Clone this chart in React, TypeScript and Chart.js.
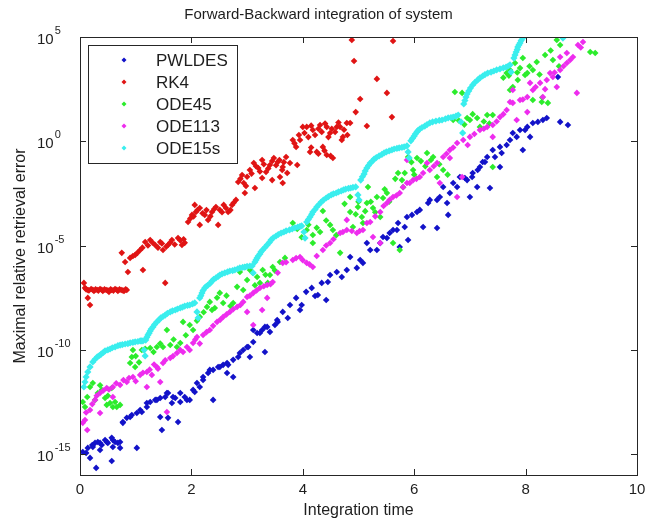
import React, { useEffect, useRef } from 'react';
import { Chart, registerables } from 'chart.js';

Chart.register(...registerables);

const FONT = "'Liberation Sans', Arial, sans-serif";
const TEXT = '#1e1e1e';

const titleText = 'Forward-Backward integration of system';
const xTitle = 'Integration time';
const yTitle = 'Maximal relative retrieval error';

const seriesNames = ['PWLDES', 'RK4', 'ODE45', 'ODE113', 'ODE15s'];
const seriesColors = ['#1212c8', '#e01414', '#2cec2c', '#ee2cee', '#3aeeee'];
const seriesRadius = [3.3, 3.3, 3.3, 3.3, 3.6];

const xTicks = [0, 2, 4, 6, 8, 10];
const yTickExps = [5, 0, -5, -10, -15];

// [integration time, log10(error)]
const pwldes = [
  [0.05, -14.9], [0.11, -14.94], [0.14, -14.7], [0.18, -15.18], [0.22, -14.56], [0.23, -14.66], [0.27, -14.46],
  [0.29, -15.66], [0.32, -14.42], [0.36, -14.46], [0.36, -14.8], [0.39, -14.56], [0.45, -14.32], [0.48, -14.42],
  [0.5, -14.46], [0.57, -15.33], [0.57, -14.22], [0.59, -14.32], [0.59, -14.66], [0.63, -14.42], [0.68, -14.46],
  [0.72, -14.42], [0.72, -14.7], [0.77, -13.46], [0.77, -13.5], [0.84, -13.26], [0.9, -13.22], [0.93, -13.12],
  [1.02, -14.7], [1.02, -13.03], [1.08, -12.88], [1.11, -12.98], [1.2, -12.55], [1.2, -12.74], [1.26, -12.5],
  [1.35, -12.4], [1.38, -12.4], [1.44, -13.22], [1.44, -12.31], [1.47, -13.84], [1.53, -12.26], [1.56, -12.07],
  [1.58, -13.26], [1.58, -12.07], [1.65, -12.55], [1.67, -12.26], [1.71, -12.31], [1.76, -13.46], [1.8, -12.07],
  [1.8, -12.5], [1.88, -12.26], [1.92, -12.4], [1.97, -12.4], [2.03, -11.92], [2.06, -12.02], [2.1, -11.59],
  [2.15, -11.78], [2.21, -11.3], [2.21, -11.44], [2.3, -11.11], [2.33, -10.96], [2.39, -12.4], [2.39, -10.96],
  [2.48, -10.82], [2.51, -10.82], [2.57, -10.72], [2.64, -10.63], [2.64, -11.11], [2.66, -10.72], [2.75, -10.48],
  [2.75, -11.3], [2.84, -10.34], [2.87, -10.15], [2.93, -10.01], [3.0, -9.86], [3.02, -9.86], [3.05, -10.34],
  [3.11, -9.05], [3.11, -9.62], [3.18, -9.19], [3.23, -9.19], [3.27, -9.05], [3.32, -10.1], [3.32, -8.9],
  [3.36, -8.9], [3.41, -9.14], [3.5, -8.81], [3.54, -8.57], [3.55, -8.66], [3.64, -8.18], [3.73, -8.47],
  [3.77, -7.85], [3.88, -7.51], [3.95, -8.09], [3.98, -7.85], [4.06, -7.22], [4.16, -7.03], [4.22, -7.42],
  [4.27, -7.37], [4.34, -6.79], [4.42, -7.61], [4.45, -6.75], [4.49, -6.41], [4.61, -6.27], [4.7, -6.51],
  [4.79, -6.17], [4.85, -5.55], [4.97, -6.07], [5.03, -5.69], [5.08, -5.83], [5.15, -4.88], [5.21, -5.21],
  [5.33, -5.21], [5.39, -4.88], [5.44, -4.59], [5.51, -4.64], [5.56, -4.4], [5.62, -4.25], [5.69, -4.25],
  [5.71, -3.92], [5.74, -5.07], [5.83, -4.11], [5.87, -3.63], [5.89, -4.73], [5.96, -3.53], [6.05, -3.39],
  [6.1, -3.29], [6.16, -4.11], [6.25, -2.96], [6.28, -2.81], [6.41, -2.81], [6.41, -4.16], [6.46, -2.67],
  [6.52, -2.19], [6.59, -2.96], [6.61, -3.53], [6.64, -2.48], [6.7, -2.0], [6.77, -2.19], [6.82, -1.71],
  [6.91, -1.76], [6.95, -1.86], [7.0, -2.67], [7.04, -1.71], [7.05, -1.52], [7.13, -2.19], [7.14, -1.38],
  [7.18, -1.23], [7.23, -0.99], [7.27, -0.99], [7.31, -0.75], [7.36, -2.24], [7.41, -0.42], [7.45, -0.75],
  [7.54, -0.27], [7.54, -1.23], [7.57, -0.56], [7.66, -0.18], [7.72, 0.06], [7.77, 0.4], [7.84, 0.21],
  [7.9, 0.54], [7.95, -0.42], [7.99, 0.54], [8.03, 0.69], [8.08, 0.21], [8.13, 0.88], [8.22, 0.93],
  [8.31, 1.02], [8.38, 1.12], [8.58, 3.08], [8.62, 0.93], [8.76, 0.78],
];

const rk4 = [
  [0.07, -6.79], [0.09, -7.03], [0.11, -7.1], [0.14, -7.13], [0.14, -7.51], [0.16, -7.15], [0.18, -7.85],
  [0.2, -7.08], [0.23, -7.12], [0.25, -7.18], [0.28, -7.1], [0.31, -7.13], [0.33, -7.16], [0.36, -7.08],
  [0.39, -7.12], [0.41, -7.18], [0.44, -7.1], [0.47, -7.13], [0.5, -7.15], [0.52, -7.22], [0.55, -7.1],
  [0.57, -7.13], [0.6, -7.16], [0.63, -7.08], [0.66, -7.12], [0.68, -7.18], [0.71, -7.1], [0.74, -7.13],
  [0.77, -7.15], [0.79, -7.18], [0.82, -7.1], [0.84, -7.13],
  [0.75, -5.35], [0.81, -5.79], [0.86, -6.27], [0.9, -5.59], [0.95, -5.5], [0.99, -5.45], [1.03, -5.35],
  [1.08, -5.21], [1.12, -5.1], [1.13, -6.17], [1.17, -4.83], [1.22, -5.0], [1.26, -4.73], [1.3, -4.85],
  [1.35, -4.97], [1.4, -5.1], [1.44, -4.83], [1.47, -4.9], [1.49, -5.21], [1.53, -6.79], [1.55, -5.05],
  [1.58, -4.97], [1.62, -4.85], [1.65, -4.73], [1.7, -4.95], [1.76, -4.64], [1.8, -4.75], [1.83, -4.97],
  [1.86, -4.7], [1.88, -4.87],
  [1.94, -3.87], [1.98, -3.7], [2.01, -3.53], [2.04, -3.6], [2.06, -3.05], [2.08, -3.39], [2.11, -3.3],
  [2.15, -3.2], [2.15, -4.01], [2.2, -3.45], [2.24, -3.53], [2.27, -3.3], [2.3, -3.77], [2.34, -3.6],
  [2.37, -3.39], [2.41, -3.25], [2.44, -3.15], [2.48, -4.01], [2.51, -3.29], [2.55, -3.4], [2.58, -3.05],
  [2.62, -3.2], [2.66, -3.39], [2.7, -3.3], [2.73, -3.05], [2.76, -2.95], [2.8, -2.81],
  [2.84, -1.95], [2.88, -1.8], [2.91, -1.62], [2.94, -2.0], [2.96, -2.48], [2.98, -2.14], [3.0, -1.7],
  [3.05, -1.38], [3.08, -1.55], [3.12, -1.04], [3.14, -2.24], [3.16, -1.2], [3.2, -1.28], [3.23, -1.45],
  [3.27, -0.9], [3.27, -1.76], [3.3, -1.1], [3.34, -1.47], [3.38, -1.3], [3.41, -1.14], [3.45, -1.86],
  [3.45, -0.95], [3.48, -0.8], [3.52, -1.15], [3.55, -0.99], [3.58, -0.9], [3.63, -1.38], [3.66, -1.0],
  [3.7, -0.75],
  [3.59, -1.71], [3.64, -1.23], [3.64, -2.0], [3.72, -1.52], [3.77, -1.04], [3.82, 0.06], [3.85, -0.1],
  [3.88, -0.27], [3.9, -1.14], [3.93, 0.3], [3.95, 0.06], [4.0, 0.69], [4.03, 0.4], [4.07, 0.69],
  [4.1, 0.2], [4.13, -0.51], [4.15, 0.75], [4.15, -0.3], [4.18, 0.54], [4.22, 0.3], [4.25, -0.51],
  [4.28, 0.6], [4.28, -0.6], [4.31, 0.78], [4.34, 0.45], [4.36, -0.27], [4.39, -0.45], [4.4, 0.85],
  [4.43, 0.69], [4.43, -0.66], [4.46, 0.2], [4.49, 0.4], [4.5, -0.7], [4.52, 0.6], [4.54, -0.8],
  [4.58, 0.45], [4.61, 0.69], [4.64, 0.9], [4.67, 0.69], [4.7, 0.06], [4.72, 0.21], [4.74, 0.55],
  [4.79, 0.88], [4.8, 0.3], [4.85, 0.88],
  [4.88, 4.86], [5.62, 4.81], [4.92, 3.85], [5.33, 2.99], [5.51, 2.32], [5.03, 2.03], [4.95, 1.4],
  [5.6, 1.16], [5.15, 0.73],
];

const ode45 = [
  [0.05, -12.5], [0.09, -12.74], [0.13, -12.26], [0.18, -11.78], [0.23, -11.59], [0.27, -12.4], [0.32, -12.07],
  [0.36, -11.7], [0.39, -11.92], [0.45, -12.31], [0.48, -12.64], [0.5, -12.2], [0.54, -12.55], [0.57, -11.83],
  [0.59, -12.74], [0.63, -12.5], [0.66, -12.74], [0.72, -12.64], [0.9, -10.63], [0.93, -10.34], [0.95, -10.01],
  [0.99, -10.82], [1.0, -10.3], [1.06, -10.6], [1.11, -10.01], [1.17, -9.95], [1.26, -9.91], [1.32, -10.1],
  [1.38, -9.86], [1.44, -9.7], [1.49, -9.86], [1.56, -9.05], [1.62, -9.77], [1.68, -9.5], [1.74, -9.86],
  [1.8, -9.67], [1.85, -8.66], [1.9, -9.3], [1.97, -8.81], [2.03, -9.05], [2.1, -8.6], [2.15, -8.42],
  [2.22, -8.2], [2.28, -7.94], [2.33, -7.7], [2.37, -8.09], [2.42, -7.99], [2.46, -7.5], [2.51, -7.27],
  [2.57, -7.75], [2.63, -7.4], [2.7, -7.9], [2.75, -7.75], [2.82, -6.98], [2.87, -6.27], [2.93, -7.13],
  [2.96, -6.03], [3.0, -6.65], [3.05, -6.17], [3.1, -6.3], [3.14, -6.9], [3.18, -6.51], [3.23, -6.79],
  [3.28, -6.17], [3.33, -6.4], [3.37, -6.79], [3.41, -6.41], [3.46, -6.03], [3.5, -6.2], [3.59, -5.79],
  [3.68, -5.59], [3.82, -3.92], [3.9, -4.2], [3.98, -4.6], [4.07, -4.25], [4.1, -4.0], [4.18, -4.49],
  [4.18, -4.88], [4.25, -4.15], [4.31, -4.35], [4.36, -3.34], [4.42, -3.8], [4.49, -4.01], [4.54, -4.25],
  [4.6, -4.5], [4.67, -5.35], [4.75, -3.0], [4.85, -2.67], [4.85, -3.39], [4.9, -4.11], [4.95, -3.5],
  [4.99, -3.15], [5.0, -2.9], [5.06, -3.63], [5.08, -3.92], [5.12, -3.35], [5.15, -2.96], [5.17, -2.19],
  [5.22, -2.9], [5.26, -3.2], [5.3, -3.4], [5.33, -2.67], [5.39, -3.63], [5.44, -2.72], [5.47, -2.3],
  [5.51, -2.48], [5.55, -2.9], [5.62, -4.88], [5.66, -1.8], [5.71, -1.52], [5.74, -5.21], [5.78, -1.86],
  [5.8, -2.2], [5.83, -1.52], [5.89, -0.75], [5.95, -1.0], [5.98, -1.38], [6.0, -1.6], [6.05, -0.8],
  [6.12, -0.95], [6.2, -1.2], [6.23, -0.56], [6.3, -0.9], [6.34, -0.75], [6.41, -1.71], [6.45, -1.1],
  [6.52, -1.38], [6.6, -1.6], [6.7, 1.02], [6.73, 2.36], [6.8, 1.0], [6.86, 2.32], [6.9, 0.8],
  [6.95, 1.12], [7.0, 1.02], [7.05, 1.3], [7.13, 1.12], [7.18, 0.69], [7.25, 0.95], [7.31, 1.26],
  [7.35, 0.85], [7.41, 1.26], [7.41, -1.23], [7.6, 3.05], [7.66, 3.27], [7.7, 3.15], [7.72, 3.42],
  [7.72, 2.46], [7.77, 2.6], [7.81, 3.75], [7.85, 3.3], [7.86, 2.94], [7.9, 3.51], [7.95, 3.99],
  [7.99, 3.18], [8.03, 3.27], [8.07, 3.6], [8.13, 3.42], [8.13, 1.98], [8.2, 3.8], [8.25, 3.2],
  [8.29, 1.88], [8.3, 2.1], [8.35, 4.14], [8.4, 1.84], [8.45, 4.35], [8.49, 3.9], [8.56, 4.86],
  [8.6, 3.6], [8.62, 4.62], [9.16, 4.28], [9.25, 4.23],
];

const ode113 = [
  [0.05, -13.5], [0.09, -13.36], [0.11, -13.0], [0.13, -13.84], [0.18, -12.88], [0.22, -12.6], [0.27, -12.4],
  [0.3, -12.2], [0.36, -12.07], [0.36, -13.03], [0.42, -11.95], [0.48, -11.83], [0.52, -11.9], [0.59, -11.78],
  [0.59, -12.26], [0.65, -11.6], [0.72, -11.68], [0.78, -11.45], [0.84, -11.54], [0.88, -11.35], [0.95, -11.3],
  [1.0, -11.5], [1.08, -11.2], [1.13, -11.1], [1.2, -11.06], [1.2, -11.78], [1.25, -10.95], [1.29, -11.2],
  [1.33, -10.7], [1.38, -10.82], [1.4, -10.9], [1.44, -11.54], [1.49, -10.63], [1.53, -10.5], [1.56, -12.98],
  [1.62, -10.39], [1.67, -10.3], [1.74, -10.15], [1.8, -10.01], [1.85, -10.1], [1.92, -9.86], [1.97, -10.01],
  [2.03, -9.67], [2.07, -9.5], [2.1, -9.38], [2.15, -9.7], [2.21, -9.29], [2.27, -9.15], [2.33, -9.05],
  [2.39, -8.85], [2.46, -8.66], [2.52, -8.55], [2.57, -8.42], [2.63, -8.3], [2.69, -8.18], [2.75, -8.05],
  [2.82, -7.94], [2.88, -7.85], [2.93, -7.7], [3.0, -7.46], [3.0, -8.18], [3.05, -7.4], [3.11, -7.27],
  [3.11, -8.81], [3.17, -7.15], [3.23, -7.03], [3.27, -8.09], [3.3, -6.95], [3.36, -6.89], [3.36, -7.51],
  [3.42, -6.85], [3.46, -6.75], [3.55, -6.3], [3.64, -5.83], [3.7, -5.8], [3.82, -5.69], [3.88, -5.6],
  [3.95, -5.55], [4.0, -5.7], [4.07, -5.83], [4.12, -5.9], [4.18, -6.03], [4.25, -5.5], [4.36, -5.21],
  [4.42, -5.0], [4.49, -4.88], [4.55, -4.7], [4.67, -4.4], [4.72, -4.35], [4.79, -4.25], [4.79, -3.77],
  [4.88, -4.3], [4.97, -4.4], [5.02, -4.3], [5.08, -4.25], [5.15, -3.92], [5.21, -3.87], [5.26, -4.59],
  [5.3, -3.6], [5.39, -3.39], [5.39, -4.88], [5.45, -3.1], [5.51, -2.96], [5.56, -2.8], [5.62, -2.67],
  [5.68, -2.6], [5.74, -2.48], [5.8, -2.2], [5.87, -2.0], [5.87, -0.9], [5.92, -2.0], [5.98, -1.86],
  [6.04, -1.8], [6.1, -1.71], [6.16, -1.52], [6.23, -1.04], [6.28, -1.38], [6.35, -1.2], [6.41, -1.04],
  [6.46, -2.0], [6.52, -0.75], [6.58, -0.6], [6.64, -0.42], [6.64, -0.8], [6.7, -0.3], [6.77, -0.08],
  [6.77, -2.67], [6.86, -1.71], [6.88, 0.06], [6.96, -0.18], [7.0, 0.21], [7.08, 0.35], [7.18, 0.54],
  [7.25, 0.6], [7.31, 0.69], [7.41, 0.78], [7.41, 0.21], [7.48, 0.95], [7.54, 1.16], [7.6, 1.3],
  [7.66, 1.5], [7.72, 1.88], [7.77, 1.84], [7.77, 2.46], [7.84, 1.02], [7.9, 1.98], [7.95, 2.0],
  [8.03, 2.12], [8.03, 1.4], [8.08, 2.8], [8.13, 2.46], [8.18, 2.6], [8.26, 2.8], [8.31, 2.12],
  [8.35, 2.5], [8.38, 2.94], [8.44, 3.27], [8.49, 3.08], [8.52, 3.3], [8.56, 2.6], [8.62, 3.42],
  [8.62, 4.04], [8.68, 3.6], [8.74, 3.75], [8.74, 4.23], [8.8, 3.9], [8.85, 4.04], [8.92, 2.32],
  [8.94, 4.62], [8.99, 4.5], [9.03, 4.76],
];

const ode15s = [
  [0.07, -11.78], [0.09, -11.54], [0.11, -11.3], [0.14, -11.06], [0.18, -10.82], [0.23, -10.58], [0.27, -10.45],
  [0.31, -10.34], [0.35, -10.27], [0.38, -10.2], [0.42, -10.12], [0.45, -10.05], [0.5, -10.0], [0.54, -9.96],
  [0.58, -9.9], [0.63, -9.86], [0.68, -9.8], [0.72, -9.77], [0.76, -9.75], [0.81, -9.72], [0.86, -9.7],
  [0.9, -9.67], [0.95, -9.64], [0.99, -9.62], [1.04, -9.6], [1.08, -9.57], [1.1, -9.57], [1.13, -9.57],
  [1.15, -10.01], [1.17, -10.29],
  [1.18, -9.53], [1.2, -9.4], [1.22, -9.29], [1.24, -9.2], [1.26, -9.09], [1.28, -9.0], [1.31, -8.9],
  [1.34, -8.78], [1.38, -8.66], [1.42, -8.56], [1.45, -8.47], [1.49, -8.4], [1.53, -8.33], [1.57, -8.25],
  [1.62, -8.18], [1.66, -8.13], [1.71, -8.09], [1.75, -8.04], [1.8, -7.99], [1.84, -7.95], [1.88, -7.9],
  [1.93, -7.87], [1.97, -7.85], [2.02, -7.8], [2.06, -7.75], [2.1, -8.18], [2.12, -8.47],
  [2.15, -7.51], [2.17, -7.4], [2.19, -7.27], [2.21, -7.15], [2.24, -7.03], [2.27, -6.95], [2.3, -6.89],
  [2.34, -6.8], [2.37, -6.7], [2.4, -6.62], [2.44, -6.55], [2.48, -6.48], [2.51, -6.41], [2.55, -6.36],
  [2.6, -6.31], [2.65, -6.26], [2.69, -6.22], [2.74, -6.2], [2.78, -6.17], [2.83, -6.12], [2.87, -6.07],
  [2.92, -6.05], [2.96, -6.03], [3.0, -6.0], [3.05, -5.98], [3.09, -5.98], [3.11, -6.31],
  [3.14, -5.79], [3.16, -5.69], [3.18, -5.59], [3.2, -5.5], [3.23, -5.4], [3.25, -5.3], [3.28, -5.21],
  [3.32, -5.09], [3.36, -4.97], [3.4, -4.85], [3.43, -4.73], [3.47, -4.63], [3.52, -4.54], [3.56, -4.47],
  [3.61, -4.4], [3.66, -4.35], [3.7, -4.3], [3.76, -4.25], [3.81, -4.2], [3.86, -4.15], [3.91, -4.11],
  [3.95, -4.08], [3.98, -4.06], [4.02, -4.35], [4.04, -4.64],
  [4.07, -3.87], [4.1, -3.75], [4.13, -3.63], [4.16, -3.5], [4.18, -3.39], [4.22, -3.27], [4.25, -3.15],
  [4.29, -3.03], [4.33, -2.91], [4.37, -2.82], [4.42, -2.72], [4.46, -2.65], [4.51, -2.57], [4.55, -2.52],
  [4.6, -2.48], [4.64, -2.43], [4.69, -2.38], [4.73, -2.33], [4.77, -2.29], [4.82, -2.26], [4.86, -2.24],
  [4.9, -2.21], [4.95, -2.19], [4.99, -2.57], [5.01, -2.81],
  [5.04, -1.86], [5.07, -1.7], [5.1, -1.57], [5.12, -1.42], [5.15, -1.28], [5.18, -1.16], [5.21, -1.04],
  [5.25, -0.95], [5.28, -0.85], [5.32, -0.78], [5.37, -0.7], [5.42, -0.63], [5.46, -0.56], [5.5, -0.51],
  [5.55, -0.46], [5.6, -0.41], [5.64, -0.37], [5.69, -0.34], [5.73, -0.32], [5.78, -0.29], [5.82, -0.27],
  [5.87, -0.22], [5.89, -0.51], [5.91, -0.8],
  [5.94, 0.02], [5.97, 0.14], [6.0, 0.25], [6.02, 0.35], [6.05, 0.45], [6.07, 0.52], [6.1, 0.59],
  [6.14, 0.66], [6.19, 0.73], [6.23, 0.8], [6.28, 0.88], [6.33, 0.93], [6.39, 0.97], [6.45, 1.0],
  [6.5, 1.02], [6.56, 1.07], [6.61, 1.12], [6.66, 1.14], [6.7, 1.16], [6.75, 1.21], [6.79, 1.26],
  [6.84, 0.93], [6.87, 0.4],
  [6.89, 1.79], [6.91, 1.95], [6.93, 2.12], [6.95, 2.27], [6.98, 2.41], [7.01, 2.55], [7.05, 2.7],
  [7.09, 2.82], [7.14, 2.94], [7.18, 3.04], [7.23, 3.13], [7.27, 3.2], [7.32, 3.27], [7.38, 3.32],
  [7.43, 3.37], [7.48, 3.42], [7.54, 3.47], [7.6, 3.52], [7.65, 3.56], [7.69, 3.61], [7.72, 3.66],
  [7.74, 3.32],
  [7.79, 3.99], [7.81, 4.14], [7.83, 4.28], [7.85, 4.4], [7.86, 4.52], [7.88, 4.62], [7.9, 4.71],
  [7.92, 4.83], [7.95, 4.95], [8.67, 4.95],
];

const seriesData = [pwldes, rk4, ode45, ode113, ode15s];

const toPoints = (pairs: number[][]) => pairs.map(([x, e]) => ({ x, y: Math.pow(10, e) }));

const decorPlugin = {
  id: 'decor',
  afterDraw(chart: any) {
    const { ctx, chartArea: a, scales } = chart;
    const xs = scales.x;
    const ys = scales.y;
    ctx.save();
    ctx.strokeStyle = '#262626';
    ctx.lineWidth = 1;
    ctx.beginPath();
    const tl = 6;
    for (const v of xTicks) {
      if (v <= xs.min || v >= xs.max) continue;
      const px = Math.round(xs.getPixelForValue(v)) + 0.5;
      ctx.moveTo(px, a.bottom);
      ctx.lineTo(px, a.bottom - tl);
      ctx.moveTo(px, a.top);
      ctx.lineTo(px, a.top + tl);
    }
    for (const e of yTickExps) {
      const py = Math.round(ys.getPixelForValue(Math.pow(10, e))) + 0.5;
      if (py <= a.top + 1) continue;
      ctx.moveTo(a.left, py);
      ctx.lineTo(a.left + tl, py);
      ctx.moveTo(a.right, py);
      ctx.lineTo(a.right - tl, py);
    }
    ctx.stroke();
    ctx.strokeRect(a.left + 0.5, a.top + 0.5, a.right - a.left, a.bottom - a.top);

    // y tick labels 10^n
    ctx.fillStyle = TEXT;
    ctx.textAlign = 'left';
    ctx.textBaseline = 'middle';
    for (const e of yTickExps) {
      const py = ys.getPixelForValue(Math.pow(10, e));
      ctx.font = `15px ${FONT}`;
      ctx.fillText('10', 37, py + 3);
      const w = ctx.measureText('10').width;
      ctx.font = `11px ${FONT}`;
      ctx.fillText(String(e), 37 + w + 1, py - 6);
    }

    // legend
    const lx = a.left + 8;
    const ly = a.top + 8;
    const lw = 149;
    const lh = 118;
    ctx.fillStyle = '#ffffff';
    ctx.fillRect(lx, ly, lw, lh);
    ctx.strokeStyle = '#262626';
    ctx.strokeRect(lx + 0.5, ly + 0.5, lw, lh);
    chart.data.datasets.forEach((ds: any, i: number) => {
      const cy = ly + 15 + i * 22;
      const mx = lx + 36;
      ctx.fillStyle = ds.backgroundColor;
      ctx.beginPath();
      ctx.moveTo(mx, cy - 2.5);
      ctx.lineTo(mx + 2.5, cy);
      ctx.lineTo(mx, cy + 2.5);
      ctx.lineTo(mx - 2.5, cy);
      ctx.closePath();
      ctx.fill();
      ctx.fillStyle = TEXT;
      ctx.font = `17px ${FONT}`;
      ctx.fillText(ds.label, lx + 68, cy + 1);
    });
    ctx.restore();
  },
};

export default function App() {
  const ref = useRef<HTMLCanvasElement>(null);
  useEffect(() => {
    if (!ref.current) return;
    const orders = [5, 4, 3, 2, 1];
    const chart = new Chart(ref.current, {
      type: 'scatter',
      data: {
        datasets: seriesNames.map((name, i) => ({
          label: name,
          data: toPoints(seriesData[i]),
          backgroundColor: seriesColors[i],
          borderColor: seriesColors[i],
          pointStyle: 'rectRot',
          pointRadius: seriesRadius[i],
          pointBorderWidth: 0,
          order: orders[i],
        })),
      },
      options: {
        animation: false,
        responsive: false,
        layout: { padding: { left: 0, right: 19, top: 0, bottom: 0 } },
        plugins: {
          legend: { display: false },
          tooltip: { enabled: false },
          title: {
            display: true,
            text: titleText,
            color: TEXT,
            font: { family: FONT, size: 15, weight: 'normal' },
            padding: { top: 6, bottom: 13 },
          },
        },
        scales: {
          x: {
            type: 'linear',
            min: 0,
            max: 10,
            ticks: {
              stepSize: 2,
              color: TEXT,
              font: { family: FONT, size: 15 },
              padding: 6,
              maxRotation: 0,
            },
            grid: { display: false, drawTicks: false },
            border: { display: false },
            title: {
              display: true,
              text: xTitle,
              color: TEXT,
              font: { family: FONT, size: 16 },
              padding: { top: 0, bottom: 0 },
            },
            afterFit: (s: any) => {
              s.height = 45;
            },
          },
          y: {
            type: 'logarithmic',
            min: 1e-16,
            max: 1e5,
            ticks: { display: false },
            grid: { display: false, drawTicks: false },
            border: { display: false },
            title: {
              display: true,
              text: yTitle,
              color: TEXT,
              font: { family: FONT, size: 16 },
              padding: { top: 11, bottom: 0 },
            },
            afterBuildTicks: (s: any) => {
              s.ticks = yTickExps.map((e) => ({ value: Math.pow(10, e) }));
            },
            afterFit: (s: any) => {
              s.width = 80;
            },
          },
        },
      } as any,
      plugins: [decorPlugin],
    });
    return () => chart.destroy();
  }, []);
  return (
    <div style={{ position: 'absolute', left: 0, top: 0, width: 656, height: 520, background: '#ffffff' }}>
      <canvas ref={ref} width={656} height={520} style={{ display: 'block', width: 656, height: 520 }} />
    </div>
  );
}
